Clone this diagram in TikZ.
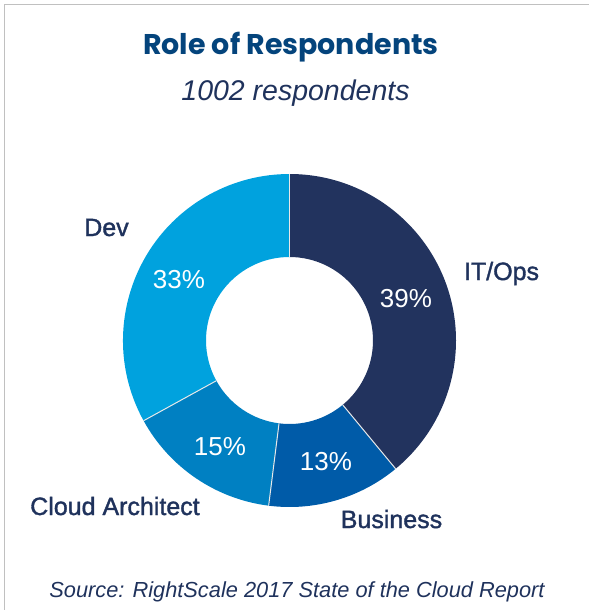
\documentclass[tikz,border=0pt]{standalone}
\usepackage{fontspec}
\setmainfont{Liberation Sans}
\newfontfamily\titlefont{Poppins}
\newfontfamily\medfont{Liberation Sans}[FakeBold=1.4]
\definecolor{titleblue}{RGB}{4,68,124}
\definecolor{navytext}{RGB}{31,50,92}
\definecolor{segit}{RGB}{34,51,94}
\definecolor{segbus}{RGB}{0,91,168}
\definecolor{segcloud}{RGB}{0,128,194}
\definecolor{segdev}{RGB}{0,162,222}
\definecolor{framegray}{RGB}{192,192,192}
\tikzset{
  pct/.style={anchor=base, text=white, inner sep=0pt, font=\fontsize{26}{30}\selectfont},
  cat/.style={anchor=base, text=navytext, inner sep=0pt, font=\medfont\fontsize{25}{30}\selectfont},
  sepline/.style={draw=white!82!gray, line width=1pt}
}
\begin{document}
\begin{tikzpicture}[x=1pt,y=-1pt]
\useasboundingbox (0,0) rectangle (589,610);
\draw[framegray, line width=1.6pt] (4.5,610) -- (4.5,4.5) -- (589,4.5);
% ring
\begin{scope}[shift={(289.5,340.5)}, yscale=-1]
  \def\Ro{166.5}\def\Ri{83.5}
  \fill[segit] (90:\Ro) arc[start angle=90,end angle=-50.4,radius=\Ro] -- (-50.4:\Ri) arc[start angle=-50.4,end angle=90,radius=\Ri] -- cycle;
  \fill[segbus] (-50.4:\Ro) arc[start angle=-50.4,end angle=-97.2,radius=\Ro] -- (-97.2:\Ri) arc[start angle=-97.2,end angle=-50.4,radius=\Ri] -- cycle;
  \fill[segcloud] (-97.2:\Ro) arc[start angle=-97.2,end angle=-151.2,radius=\Ro] -- (-151.2:\Ri) arc[start angle=-151.2,end angle=-97.2,radius=\Ri] -- cycle;
  \fill[segdev] (-151.2:\Ro) arc[start angle=-151.2,end angle=-270,radius=\Ro] -- (-270:\Ri) arc[start angle=-270,end angle=-151.2,radius=\Ri] -- cycle;
  \draw[sepline] (90:\Ri) -- (90:\Ro);
  \draw[sepline] (-50.4:\Ri) -- (-50.4:\Ro);
  \draw[sepline] (-97.2:\Ri) -- (-97.2:\Ro);
  \draw[sepline] (-151.2:\Ri) -- (-151.2:\Ro);
\end{scope}
% texts
\node[anchor=base, inner sep=0pt, text=titleblue, font=\titlefont\bfseries\fontsize{28.5}{32}\selectfont] (title) at (291,55) {Role of Respondents};
\node[anchor=base, inner sep=0pt, text=navytext, font=\itshape\fontsize{28.5}{32}\selectfont] (subtitle) at (295.5,100) {1002 respondents};
\node[anchor=base, inner sep=0pt, text=navytext, font=\itshape\fontsize{21.8}{26}\selectfont] (source) at (297,597) {Source: RightScale 2017 State of the Cloud Report};
\node[cat] (dev) at (106.5,236) {Dev};
\node[cat] (itops) at (501.5,280) {IT/Ops};
\node[cat] (business) at (391.5,528) {Business};
\node[cat] (cloud) at (115,515) {Cloud Architect};
\node[pct] (p33) at (179,288) {33\%};
\node[pct] (p39) at (406,307) {39\%};
\node[pct] (p15) at (220,455) {15\%};
\node[pct] (p13) at (326,470) {13\%};
\end{tikzpicture}
\end{document}
